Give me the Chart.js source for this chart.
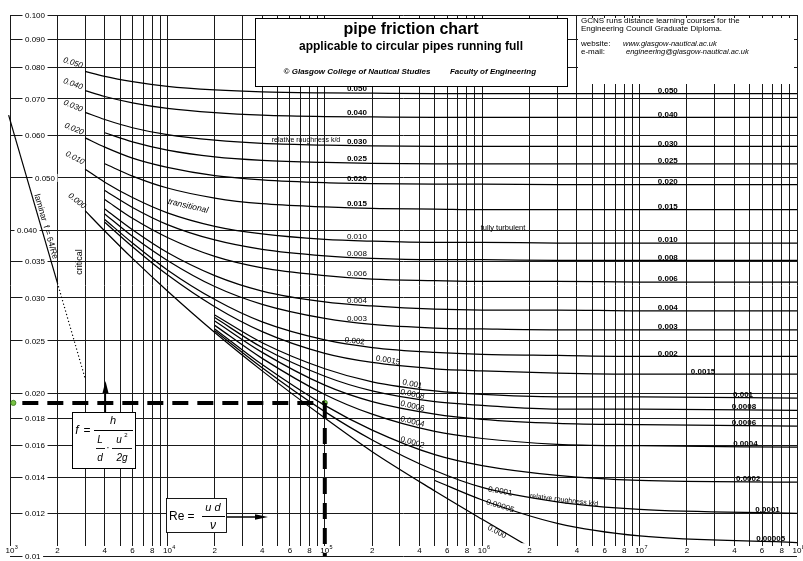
<!DOCTYPE html>
<html>
<head>
<meta charset="utf-8">
<title>pipe friction chart</title>
<script src="https://cdn.jsdelivr.net/npm/chart.js@4.4.1/dist/chart.umd.min.js"></script>
<style>
  html, body { margin: 0; padding: 0; background: #fff; }
  canvas { display: block; }
</style>
</head>
<body>
<canvas id="moody" width="803" height="561"></canvas>
<script>
// Reynolds numbers at which every friction curve is tabulated
const reynolds = [3e3, 4e3, 6e3, 1e4, 2e4, 4e4, 1e5, 2e5, 5e5, 1e6, 3e6, 1e7, 1e8];

// Friction factor f for each relative roughness k/d (null = curve not started yet)
const f_050   = [0.0787, 0.0770, 0.0753, 0.0738, 0.0727, 0.0721, 0.0718, 0.0717, 0.0716, 0.0716, 0.0716, 0.0716, 0.0716];
const f_040   = [0.0725, 0.0707, 0.0688, 0.0672, 0.0660, 0.0653, 0.0649, 0.0648, 0.0647, 0.0647, 0.0647, 0.0647, 0.0647];
const f_030   = [0.0661, 0.0641, 0.0619, 0.0601, 0.0587, 0.0579, 0.0575, 0.0573, 0.0572, 0.0572, 0.0572, 0.0572, 0.0572];
const f_025   = [null,   0.0606, 0.0583, 0.0563, 0.0547, 0.0539, 0.0534, 0.0532, 0.0531, 0.0531, 0.0531, 0.0531, 0.0531];
const f_020   = [0.0593, 0.0570, 0.0544, 0.0523, 0.0505, 0.0496, 0.0490, 0.0488, 0.0487, 0.0487, 0.0486, 0.0486, 0.0486];
const f_015   = [null,   0.0531, 0.0504, 0.0479, 0.0459, 0.0448, 0.0442, 0.0439, 0.0438, 0.0437, 0.0437, 0.0437, 0.0437];
const f_010   = [0.0519, 0.0491, 0.0460, 0.0431, 0.0407, 0.0394, 0.0385, 0.0382, 0.0380, 0.0380, 0.0379, 0.0379, 0.0379];
const f_008   = [null,   0.0474, 0.0441, 0.0410, 0.0384, 0.0369, 0.0359, 0.0355, 0.0353, 0.0353, 0.0352, 0.0352, 0.0352];
const f_006   = [null,   0.0456, 0.0421, 0.0388, 0.0358, 0.0341, 0.0330, 0.0325, 0.0323, 0.0322, 0.0322, 0.0321, 0.0321];
const f_004   = [null,   0.0438, 0.0401, 0.0364, 0.0330, 0.0309, 0.0295, 0.0290, 0.0286, 0.0285, 0.0285, 0.0284, 0.0284];
const f_003   = [null,   0.0429, 0.0390, 0.0352, 0.0315, 0.0292, 0.0275, 0.0268, 0.0264, 0.0263, 0.0262, 0.0262, 0.0262];
const f_002   = [null,   0.0419, 0.0379, 0.0338, 0.0298, 0.0271, 0.0251, 0.0243, 0.0238, 0.0236, 0.0235, 0.0234, 0.0234];
const f_0015  = [null,   0.0414, 0.0373, 0.0331, 0.0289, 0.0260, 0.0237, 0.0228, 0.0222, 0.0220, 0.0218, 0.0217, 0.0217];
const f_0010  = [null, null, null, null, 0.0279, 0.0248, 0.0222, 0.0210, 0.0202, 0.0199, 0.0197, 0.0197, 0.0196];
const f_0008  = [null, null, null, null, 0.0276, 0.0243, 0.0215, 0.0202, 0.0193, 0.0190, 0.0187, 0.0187, 0.0186];
const f_0006  = [null, null, null, null, 0.0272, 0.0238, 0.0207, 0.0193, 0.0183, 0.0179, 0.0176, 0.0175, 0.0174];
const f_0004  = [null, null, null, null, 0.0267, 0.0232, 0.0199, 0.0183, 0.0170, 0.0165, 0.0161, 0.0160, 0.0159];
const f_0002  = [null, null, null, null, 0.0263, 0.0226, 0.0190, 0.0171, 0.0154, 0.0147, 0.0141, 0.0138, 0.0137];
const f_0001  = [null, null, null, null, 0.0261, 0.0223, 0.0185, 0.0164, 0.0144, 0.0134, 0.0126, 0.0122, 0.0120];
const f_00005 = [null, null, null, null, null, null, null, null, 0.0138, 0.0127, 0.0115, 0.0109, 0.0106];
const f_smooth = [0.0435, 0.0399, 0.0355, 0.0309, 0.0259, 0.0220, 0.0180, 0.0156, 0.0132, 0.0117, 0.0097, null, null];

// Laminar line f = 64/Re: solid, then dotted up to the critical zone
const laminarRe = [980, 2000];
const laminarF = [0.0653, 0.0320];
const laminarDottedRe = [2000, 3000];
const laminarDottedF = [0.0320, 0.0213];

// Worked read-off: Re = 1e5 gives f = 0.0192
const exampleRe = [1050, 1e5];
const exampleF = 0.0192;

// Axis ticks and labels
const yTicks = [0.01, 0.012, 0.014, 0.016, 0.018, 0.020, 0.025, 0.030, 0.035, 0.040, 0.050, 0.060, 0.070, 0.080, 0.090, 0.100];
const yTickLabels = ['0.01', '0.012', '0.014', '0.016', '0.018', '0.020', '0.025', '0.030', '0.035', '0.040', '0.050', '0.060', '0.070', '0.080', '0.090', '0.100'];
const xDecades = [1e3, 1e4, 1e5, 1e6, 1e7];
const xGridMultipliers = [1, 2, 3, 4, 5, 6, 7, 8, 9];
const xLabelExponents = ['3', '4', '5', '6', '7', '8'];
const xLabelMultipliers = [2, 4, 6, 8];

// ---------------------------------------------------------------------------

const curves = [
  ['0.050', f_050], ['0.040', f_040], ['0.030', f_030], ['0.025', f_025], ['0.020', f_020],
  ['0.015', f_015], ['0.010', f_010], ['0.008', f_008], ['0.006', f_006], ['0.004', f_004],
  ['0.003', f_003], ['0.002', f_002], ['0.0015', f_0015], ['0.001', f_0010], ['0.0008', f_0008],
  ['0.0006', f_0006], ['0.0004', f_0004], ['0.0002', f_0002], ['0.0001', f_0001],
  ['0.00005', f_00005], ['0.000', f_smooth]
];
const curveValues = Object.fromEntries(curves);

const xGrid = [];
xDecades.forEach(d => xGridMultipliers.forEach(m => xGrid.push(m * d)));
xGrid.push(1e8);

const FAMILY = '"Liberation Sans", Arial, Helvetica, sans-serif';
const font = (size, style = '') => `${style} ${size}px ${FAMILY}`.trim();

function points(xs, ys) {
  return xs.map((x, i) => ({ x, y: Array.isArray(ys) ? ys[i] : ys })).filter(p => p.y != null);
}

// log-log interpolation along a tabulated curve
function valueAt(values, re) {
  const pts = reynolds.map((r, i) => [r, values[i]]).filter(p => p[1] != null);
  for (let i = 0; i < pts.length - 1; i++) {
    const [r0, f0] = pts[i], [r1, f1] = pts[i + 1];
    if (re >= r0 && re <= r1) {
      const t = Math.log(re / r0) / Math.log(r1 / r0);
      return Math.exp(Math.log(f0) + t * Math.log(f1 / f0));
    }
  }
  return pts[pts.length - 1][1];
}

const datasets = [
  { // horizontal read-off
    data: points(exampleRe, exampleF), borderColor: '#000', borderWidth: 4,
    borderDash: [16, 9], borderDashOffset: 16, pointRadius: 0, clip: false
  },
  { // vertical read-off
    data: points([exampleRe[1], exampleRe[1]], [exampleF, 0.01]), borderColor: '#000', borderWidth: 4,
    borderDash: [16, 9], pointRadius: 0, clip: 3
  },
  { // read-off markers
    data: points(exampleRe, exampleF), showLine: false, pointRadius: 2.6,
    pointBackgroundColor: '#78c244', pointBorderColor: '#3b7a1e', pointBorderWidth: 0.8, clip: false
  },
  {
    data: points(laminarRe, laminarF), borderColor: '#000', borderWidth: 1.2, pointRadius: 0, clip: false
  },
  {
    data: points(laminarDottedRe, laminarDottedF), borderColor: '#000', borderWidth: 1.2,
    borderDash: [1.2, 2.4], pointRadius: 0, clip: false
  }
];
const LAMINAR_INDEX = 3;

curves.forEach(([label, values]) => {
  datasets.push({
    label: label,
    data: points(reynolds, values),
    borderColor: '#000',
    borderWidth: 1.25,
    pointRadius: 0,
    cubicInterpolationMode: 'monotone',
    clip: label === '0.000' ? { left: 1, top: 1, right: 1, bottom: -13 } : undefined
  });
});

function text(ctx, s, x, y, opts = {}) {
  ctx.save();
  ctx.font = font(opts.size || 8, opts.style || '');
  ctx.fillStyle = '#000';
  ctx.textAlign = opts.align || 'center';
  ctx.textBaseline = opts.base || 'middle';
  ctx.translate(x, y);
  if (opts.rot) ctx.rotate(opts.rot * Math.PI / 180);
  ctx.fillText(s, 0, 0);
  ctx.restore();
}

function hline(ctx, x0, x1, y, w = 1) {
  ctx.beginPath(); ctx.lineWidth = w; ctx.moveTo(x0, y); ctx.lineTo(x1, y); ctx.stroke();
}

// per-label left edge of the friction-factor tick labels
const yLabelLeft = { '0.050': 35, '0.040': 17 };

// curve labels: mid-chart column, right-hand column, and the rotated ones along the curves
const midColumnRe = 1.6e5;
const midLabels = [
  ['0.050', 'bold'], ['0.040', 'bold'], ['0.030', 'bold'], ['0.025', 'bold'], ['0.020', 'bold'],
  ['0.015', 'bold'], ['0.010', ''], ['0.008', ''], ['0.006', ''], ['0.004', ''], ['0.003', '']
];
const rightColumnRe = 1.51e7;
const rightLabels = ['0.050', '0.040', '0.030', '0.025', '0.020', '0.015', '0.010', '0.008', '0.006', '0.004', '0.003', '0.002'];
const rightExtra = [
  ['0.0015', 2.53e7], ['0.001', 4.54e7], ['0.0008', 4.6e7], ['0.0006', 4.6e7],
  ['0.0004', 4.7e7], ['0.0002', 4.9e7], ['0.0001', 6.5e7], ['0.00005', 6.8e7]
];
const alongLabels = [
  ['0.002', 1.55e5, 6, -3.5], ['0.0015', 2.52e5, 10, -3.7], ['0.001', 3.6e5, 12, -3.5], ['0.0008', 3.6e5, 12, -3.5],
  ['0.0006', 3.6e5, 13, -3.5], ['0.0004', 3.6e5, 14, -3.5], ['0.0002', 3.6e5, 16, -3.5],
  ['0.0001', 1.3e6, 10, 0.5], ['0.00005', 1.3e6, 17, 0.5], ['0.000', 1.24e6, 27, 4]
];
const leftLabels = [
  ['0.050', 73, 63, 18], ['0.040', 73, 84, 20], ['0.030', 73, 106, 22],
  ['0.020', 74, 129, 22], ['0.010', 75, 158, 28], ['0.000', 77, 201, 38]
];

const decorations = {
  id: 'decorations',
  beforeDatasetsDraw(chart) {
    const { ctx, scales: { x, y } } = chart;
    ctx.save();
    ctx.fillStyle = '#fff';
    ctx.fillRect(0, 546, 803, 10);           // band for the Reynolds-number labels
    ctx.fillRect(255, 18, 313, 69);          // title panel
    ctx.fillRect(578, 18, 216, 66);          // information panel
    ctx.strokeStyle = '#000';
    ctx.lineWidth = 1;
    ctx.strokeRect(255.5, 18.5, 312, 68);

    // friction factor labels sitting in the grid lines
    ctx.font = font(8);
    yTicks.forEach((v, i) => {
      const s = yTickLabels[i];
      const lx = yLabelLeft[s] !== undefined ? yLabelLeft[s] : 25;
      const py = y.getPixelForValue(v);
      const w = ctx.measureText(s).width;
      ctx.fillStyle = '#fff';
      ctx.fillRect(lx - 2.5, py - 4, w + 5, 8);
      ctx.fillStyle = '#000';
      ctx.textAlign = 'left';
      ctx.textBaseline = 'middle';
      ctx.fillText(s, lx, py + 0.5);
    });

    // Reynolds number labels
    ctx.textBaseline = 'middle';
    xLabelExponents.forEach(e => {
      const px = x.getPixelForValue(Math.pow(10, Number(e)));
      ctx.font = font(8); ctx.textAlign = 'center';
      ctx.fillText('10', px, 551);
      ctx.font = font(5.5); ctx.textAlign = 'left';
      ctx.fillText(e, px + 4.8, 547.5);
    });
    ctx.font = font(8); ctx.textAlign = 'center';
    xDecades.forEach(d => xLabelMultipliers.forEach(m => {
      ctx.fillText(String(m), x.getPixelForValue(m * d), 551);
    }));
    ctx.restore();
  },
  afterDraw(chart) {
    const { ctx, scales: { x, y } } = chart;
    ctx.save();
    ctx.strokeStyle = '#000';
    ctx.fillStyle = '#000';

    // title panel text
    text(ctx, 'pipe friction chart', 411, 30, { size: 16, style: 'bold' });
    text(ctx, 'applicable to circular pipes running full', 411, 47, { size: 12, style: 'bold' });
    text(ctx, '\u00A9 Glasgow College of Nautical Studies', 357, 72, { size: 8, style: 'italic bold' });
    text(ctx, 'Faculty of Engineering', 493, 72, { size: 8, style: 'italic bold' });

    // information panel text
    text(ctx, 'GCNS runs distance learning courses for the', 581, 21, { size: 8, align: 'left' });
    text(ctx, 'Engineering Council Graduate Diploma.', 581, 29, { size: 8, align: 'left' });
    text(ctx, 'website:', 581, 44, { size: 8, align: 'left' });
    text(ctx, 'www.glasgow-nautical.ac.uk', 623, 44, { size: 7.5, style: 'italic', align: 'left' });
    text(ctx, 'e-mail:', 581, 52, { size: 8, align: 'left' });
    text(ctx, 'engineering@glasgow-nautical.ac.uk', 626, 52, { size: 7.5, style: 'italic', align: 'left' });

    // zone and axis notes
    text(ctx, 'relative roughness k/d', 306, 140, { size: 7 });
    text(ctx, 'fully turbulent', 503, 228, { size: 7.5 });
    text(ctx, 'transitional', 188, 206, { size: 8.5, style: 'italic', rot: 13 });
    text(ctx, 'relative roughness k/d', 564, 500, { size: 7, rot: 7 });
    text(ctx, 'critical', 80, 262, { size: 9, rot: -90 });

    // laminar label written along its line
    const lam = chart.getDatasetMeta(LAMINAR_INDEX).data;
    if (lam.length > 1) {
      const p0 = lam[0], p1 = lam[1];
      const ang = Math.atan2(p1.y - p0.y, p1.x - p0.x);
      const ly = 228, t = (ly - p0.y) / (p1.y - p0.y);
      const lx = p0.x + t * (p1.x - p0.x);
      ctx.save();
      ctx.translate(lx, ly);
      ctx.rotate(ang);
      ctx.font = font(8.5);
      ctx.textAlign = 'center';
      ctx.textBaseline = 'bottom';
      ctx.fillText('laminar  f = 64/Re', 0, -0.5);
      ctx.restore();
    }

    // curve labels
    leftLabels.forEach(([s, px, py, r]) => text(ctx, s, px, py, { size: 8, style: 'italic', rot: r }));
    const mx = x.getPixelForValue(midColumnRe);
    midLabels.forEach(([s, st]) => {
      text(ctx, s, mx, y.getPixelForValue(valueAt(curveValues[s], midColumnRe)) - 2, { size: 8, style: st, base: 'alphabetic' });
    });
    const rx = x.getPixelForValue(rightColumnRe);
    rightLabels.forEach(s => {
      text(ctx, s, rx, y.getPixelForValue(valueAt(curveValues[s], rightColumnRe)) - 0.6, { size: 8, style: 'bold', base: 'alphabetic' });
    });
    rightExtra.forEach(([s, re]) => {
      text(ctx, s, x.getPixelForValue(re), y.getPixelForValue(valueAt(curveValues[s], re)) - 0.6, { size: 8, style: 'bold', base: 'alphabetic' });
    });
    alongLabels.forEach(([s, re, r, dy]) => {
      text(ctx, s, x.getPixelForValue(re), y.getPixelForValue(valueAt(curveValues[s], re)) + dy, { size: 8, rot: r });
    });

    // formula box: f = h / (L/d . u^2/2g)
    ctx.fillStyle = '#fff';
    ctx.fillRect(72, 412, 64, 57);
    ctx.lineWidth = 1;
    ctx.strokeRect(72.5, 412.5, 63, 56);
    text(ctx, 'f', 77, 431, { size: 12, style: 'italic' });
    text(ctx, '=', 87, 431, { size: 12 });
    hline(ctx, 94, 133, 430.5, 1);
    text(ctx, 'h', 113, 421, { size: 11, style: 'italic' });
    text(ctx, 'L', 100, 440, { size: 10, style: 'italic' });
    hline(ctx, 96, 105, 448.5, 0.9);
    text(ctx, 'd', 100, 458, { size: 10, style: 'italic' });
    text(ctx, '\u00B7', 108, 448, { size: 10 });
    text(ctx, 'u', 119, 440, { size: 10, style: 'italic' });
    text(ctx, '2', 126, 435, { size: 6 });
    hline(ctx, 112, 132, 448.5, 0.9);
    text(ctx, '2g', 122, 458, { size: 10, style: 'italic' });

    // formula box: Re = u d / nu
    ctx.fillStyle = '#fff';
    ctx.fillRect(166, 498, 61, 35);
    ctx.strokeRect(166.5, 498.5, 60, 34);
    text(ctx, 'Re', 169, 517, { size: 12, align: 'left' });
    text(ctx, '=', 191, 517, { size: 12 });
    text(ctx, 'u d', 213, 508, { size: 11, style: 'italic' });
    hline(ctx, 202, 225, 516.5, 1);
    text(ctx, '\u03BD', 213, 526, { size: 12, style: 'italic' });

    // arrows
    ctx.fillStyle = '#000';
    ctx.beginPath(); ctx.lineWidth = 1.2; ctx.moveTo(105.5, 412); ctx.lineTo(105.5, 392); ctx.stroke();
    ctx.beginPath(); ctx.moveTo(105.5, 381); ctx.lineTo(102.5, 393); ctx.lineTo(108.5, 393); ctx.closePath(); ctx.fill();
    ctx.beginPath(); ctx.lineWidth = 1.5; ctx.moveTo(227, 517); ctx.lineTo(256, 517); ctx.stroke();
    ctx.beginPath(); ctx.moveTo(268, 517); ctx.lineTo(255, 514.3); ctx.lineTo(255, 519.7); ctx.closePath(); ctx.fill();

    ctx.restore();
  }
};

const gridStyle = { color: '#1a1a1a', lineWidth: 1, drawTicks: false };

new Chart(document.getElementById('moody'), {
  type: 'line',
  data: { datasets },
  options: {
    responsive: false,
    animation: false,
    events: [],
    layout: { padding: { left: 10, right: 6, top: 15, bottom: 2 } },
    plugins: { legend: { display: false }, tooltip: { enabled: false } },
    scales: {
      x: {
        type: 'logarithmic', min: 1e3, max: 1e8,
        afterBuildTicks: s => { s.ticks = xGrid.map(v => ({ value: v })); },
        ticks: { display: false }, grid: gridStyle, border: { display: false }
      },
      y: {
        type: 'logarithmic', min: 0.01, max: 0.1,
        afterBuildTicks: s => { s.ticks = yTicks.map(v => ({ value: v })); },
        ticks: { display: false }, grid: gridStyle, border: { display: false }
      }
    }
  },
  plugins: [decorations]
});
</script>
</body>
</html>
